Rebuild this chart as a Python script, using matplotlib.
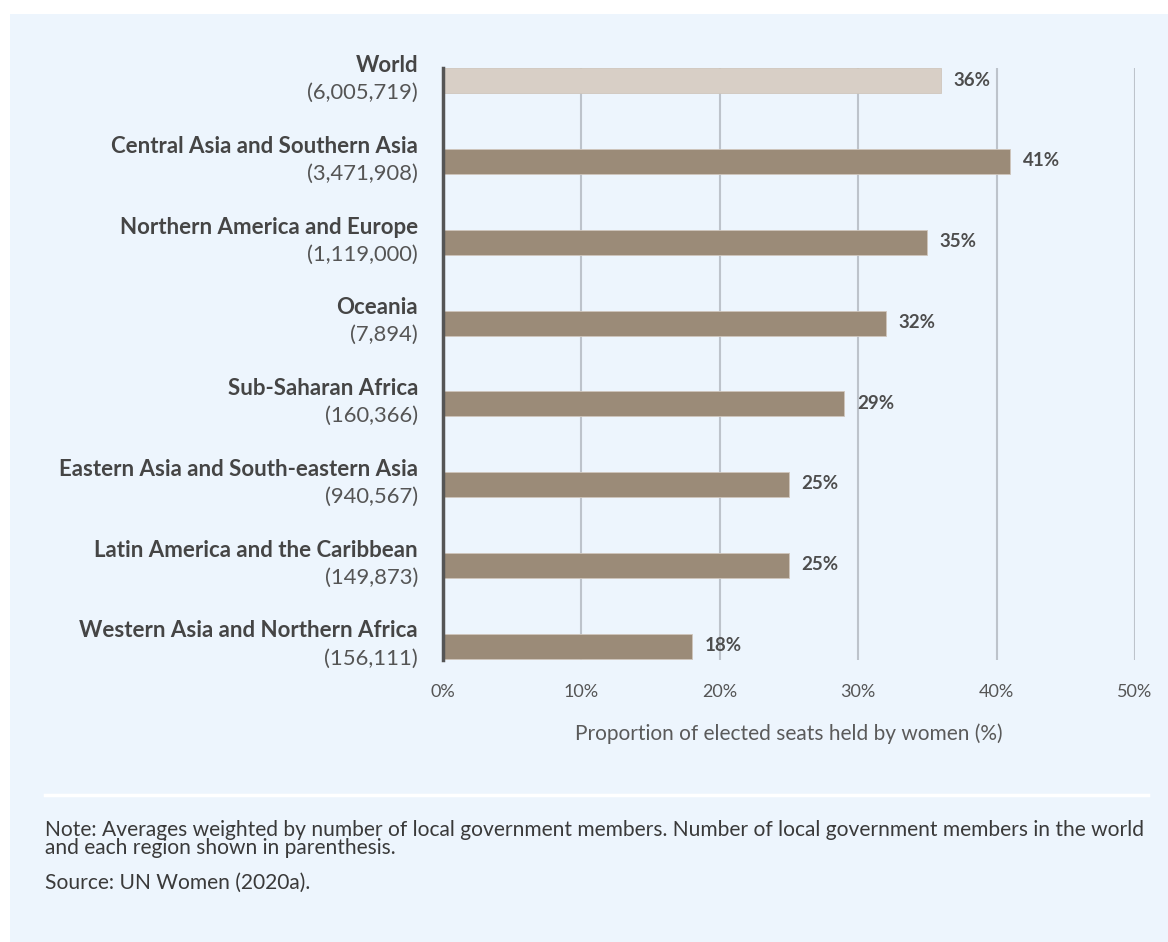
import matplotlib.pyplot as plt
from matplotlib.patches import Rectangle
from matplotlib.lines import Line2D

# data
regions = ["World", "Central Asia and Southern Asia", "Northern America and Europe",
           "Oceania", "Sub-Saharan Africa", "Eastern Asia and South-eastern Asia",
           "Latin America and the Caribbean", "Western Asia and Northern Africa"]
members = ["6,005,719", "3,471,908", "1,119,000", "7,894", "160,366",
           "940,567", "149,873", "156,111"]
share = [36, 41, 35, 32, 29, 25, 25, 18]
xticks = [0, 10, 20, 30, 40, 50]

plt.rcParams['font.family'] = ['Lato', 'DejaVu Sans']

W, H = 1168, 942
fig = plt.figure(figsize=(W / 100, H / 100), dpi=100, facecolor="white")

# light blue panel
fig.patches.append(Rectangle((10 / W, 0), 1 - 10 / W, 1 - 14 / H, transform=fig.transFigure,
                             facecolor="#EDF5FD", edgecolor="none", zorder=-1))

ax = fig.add_axes([443 / W, 1 - 660 / H, (1135 - 443) / W, (660 - 68) / H])
ax.set_facecolor("none")

colors = ["#D8CFC6"] + ["#9B8B78"] * (len(share) - 1)
ypos = list(range(len(share)))
ax.barh(ypos, share, height=0.31, color=colors, edgecolor="#CFC6BC", linewidth=0.6, zorder=3)

for y, v in zip(ypos, share):
    ax.text(v + 0.9, y - 0.01, f"{v}%", va="center", ha="left", fontsize=13.5,
            fontweight="bold", color="#4D4D4D")

for y, name, num in zip(ypos, regions, members):
    ax.text(-1.8, y - 0.19, name, ha="right", va="center", fontsize=16,
            fontweight="bold", color="#454545")
    ax.text(-1.8, y + 0.15, f"({num})", ha="right", va="center", fontsize=15.8,
            color="#555555")

ax.set_xlim(0, 50)
ax.set_ylim(7.17, -0.16)
ax.set_xticks(xticks)
ax.set_xticklabels([f"{t}%" for t in xticks], fontsize=13, color="#555555")
ax.set_yticks([])
ax.tick_params(axis="x", length=0, pad=17)
ax.grid(axis="x", color="#BDC3CB", linewidth=1.5, zorder=1)
for s in ["top", "right", "bottom"]:
    ax.spines[s].set_visible(False)
ax.spines["left"].set_color("#555555")
ax.spines["left"].set_linewidth(2.5)
ax.spines["left"].set_zorder(4)
ax.set_xlabel("Proportion of elected seats held by women (%)", fontsize=15,
              color="#5A5A5A", labelpad=17)

# separator and notes
fig.lines.append(Line2D([45 / W, 1148 / W], [1 - 795 / H, 1 - 795 / H], transform=fig.transFigure,
                        color="white", linewidth=2.5))
fig.text(45 / W, 1 - 839 / H,
         "Note: Averages weighted by number of local government members. Number of local government members in the world\n"
         "and each region shown in parenthesis.",
         fontsize=15.1, color="#3A3A3A", va="center", linespacing=0.92)
fig.text(45 / W, 1 - 883 / H, "Source: UN Women (2020a).", fontsize=15.1, color="#3A3A3A",
         va="center")

fig.savefig("out.png", dpi=100, facecolor="white")
